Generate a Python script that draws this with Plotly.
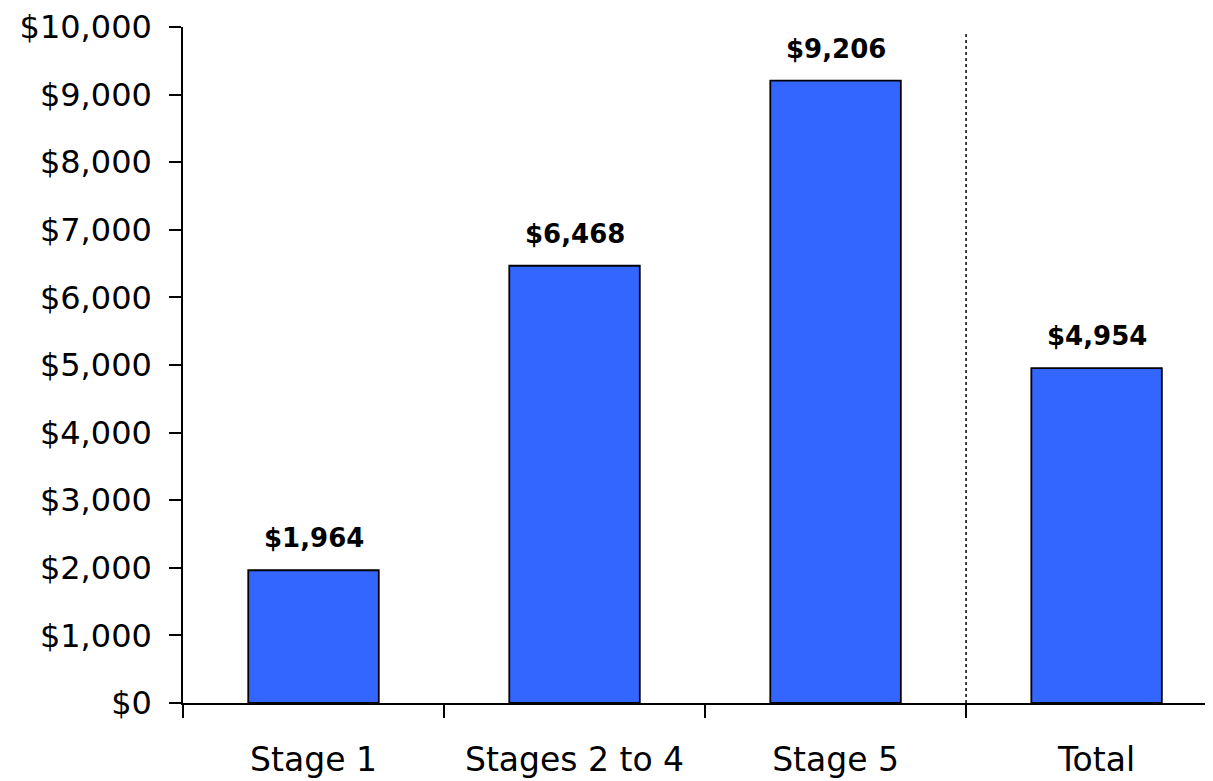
import plotly.graph_objects as go

categories = ["Stage 1", "Stages 2 to 4", "Stage 5", "Total"]
values = [1964, 6468, 9206, 4954]
y_ticks = list(range(0, 10001, 1000))
y_tick_labels = [f"${v:,}" for v in y_ticks]

FONT = "DejaVu Sans"

fig = go.Figure()
fig.add_trace(go.Bar(
    x=categories, y=values, width=0.5,
    marker=dict(color="#3366FF", line=dict(color="black", width=1.8)),
))

for c, v in zip(categories, values):
    fig.add_annotation(x=c, y=v, text=f"<b>${v:,}</b>", showarrow=False,
                       yanchor="bottom", yshift=15,
                       font=dict(family=FONT, size=26, color="black"))

fig.add_shape(type="line", xref="x", yref="y", x0=2.5, x1=2.5, y0=0, y1=9940,
              line=dict(color="black", width=1.5, dash="dot"))

fig.update_layout(
    width=1205, height=773,
    margin=dict(l=175, r=0, t=19, b=78),
    paper_bgcolor="white", plot_bgcolor="white",
    showlegend=False,
    font=dict(family=FONT, color="black"),
    xaxis=dict(
        type="category", range=[-0.5, 3.446], automargin=False,
        tickson="boundaries", ticks="outside", ticklen=13, tickwidth=1.5, tickcolor="black",
        showline=True, linecolor="black", linewidth=1.5,
        showgrid=False, tickfont=dict(family=FONT, size=33, color="black"),
        ticklabelstandoff=27, ticklabeloverflow="allow",
    ),
    yaxis=dict(
        range=[0, 10000], tickvals=y_ticks, ticktext=y_tick_labels, automargin=False,
        ticks="outside", ticklen=12, tickwidth=1.5, tickcolor="black",
        showline=True, linecolor="black", linewidth=1.5,
        showgrid=False, zeroline=False,
        tickfont=dict(family=FONT, size=32, color="black"),
        ticklabelstandoff=11, ticklabeloverflow="allow",
    ),
)

fig.write_html("out.html")
